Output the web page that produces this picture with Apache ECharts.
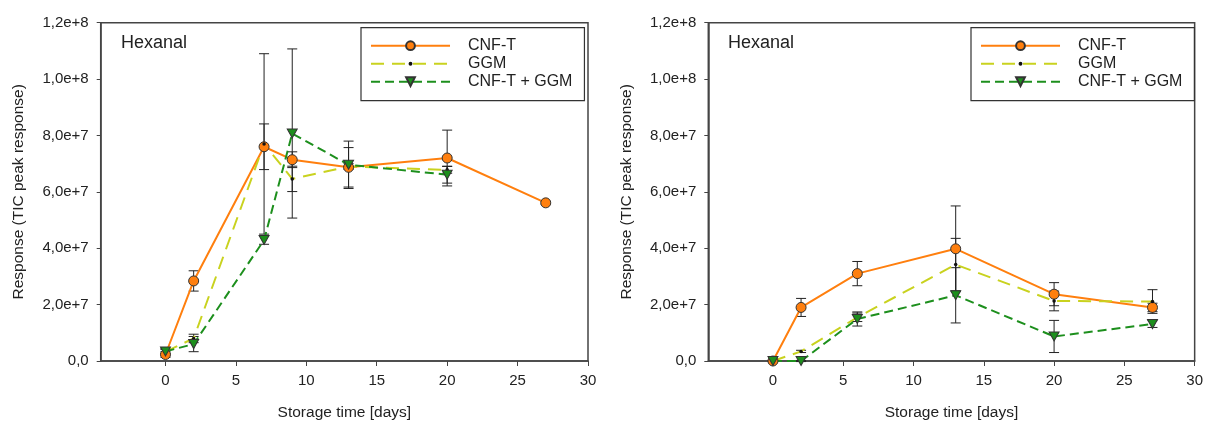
<!DOCTYPE html>
<html>
<head>
<meta charset="utf-8">
<script src="https://cdn.jsdelivr.net/npm/echarts@6/dist/echarts.min.js"></script>
<style>
  html, body { margin: 0; padding: 0; background: #fff; }
  #chart { width: 1206px; height: 426px; }
</style>
</head>
<body>
<div id="chart"></div>
<script>
// left panel
const daysA = [0, 2, 7, 9, 13, 20, 27]
const daysA2 = [0, 2, 7, 9, 13, 20]
const cnftA = [2.3e6, 2.84e7, 7.6e7, 7.14e7, 6.87e7, 7.2e7, 5.61e7]
const cnftAErr = [1.0e6, 3.6e6, 8.1e6, 2.8e6, 7.0e6, 9.9e6, 5e5]
const ggmA = [3.3e6, 8.0e6, 7.7e7, 6.46e7, 6.9e7, 6.78e7]
const ggmAErr = [8e5, 1.5e6, 3.2e7, 4.5e6, 1.0e6, 1.2e6]
const mixA = [3.4e6, 6.0e6, 4.29e7, 8.07e7, 6.96e7, 6.61e7]
const mixAErr = [1.0e6, 2.7e6, 1.5e6, 3.0e7, 8.4e6, 3.0e6]

// right panel
const daysB = [0, 2, 6, 13, 20, 27]
const cnftB = [0, 1.9e7, 3.1e7, 3.98e7, 2.37e7, 1.9e7]
const cnftBErr = [3e5, 3.2e6, 4.3e6, 1.52e7, 4.1e6, 1.5e6]
const ggmB = [0, 3.4e6, 1.55e7, 3.42e7, 2.13e7, 2.11e7]
const ggmBErr = [2e5, 4e5, 1.5e6, 9.3e6, 3.5e6, 4.2e6]
const mixB = [0, 0, 1.49e7, 2.33e7, 8.7e6, 1.31e7]
const mixBErr = [2e5, 2e5, 2.5e6, 9.8e6, 5.7e6, 1.2e6]

const xTicks = [0, 5, 10, 15, 20, 25, 30]
const names = ['CNF-T', 'GGM', 'CNF-T + GGM']

const font = 'Liberation Sans, Arial, sans-serif'
const axisCol = '#444'
const orange = '#ff7f0e'
const yellow = '#c9d21f'
const green = '#1d8f1d'
const triDown = 'path://M0,0 L10,0 L5,9 Z'
// small dot inside an empty 10x10 box, so legend and plot keep it tiny
const smallDot = 'path://M0,0 M10,10 M7.2,5 A2.2,2.2 0 1 1 2.8,5 A2.2,2.2 0 1 1 7.2,5 Z'

const zip = (xs, ys) => xs.map((x, i) => [x, ys[i]])
const errData = (xs, ys, es) => xs.map((x, i) => [x, ys[i] - es[i], ys[i] + es[i]])

// y tick text like 1,2e+8
const sci = v => {
  if (v === 0) return '0,0'
  const e = Math.floor(Math.log10(v) + 1e-9)
  return (v / Math.pow(10, e)).toFixed(1).replace('.', ',') + 'e+' + e
}

const errBar = (data, idx) => ({
  type: 'custom',
  xAxisIndex: idx,
  yAxisIndex: idx,
  z: 1,
  silent: true,
  encode: { x: 0, y: [1, 2] },
  data,
  renderItem: (params, api) => {
    const lo = api.coord([api.value(0), api.value(1)])
    const hi = api.coord([api.value(0), api.value(2)])
    const w = 5
    const st = { stroke: '#222', lineWidth: 1 }
    return {
      type: 'group',
      children: [
        { type: 'line', shape: { x1: lo[0], y1: lo[1], x2: hi[0], y2: hi[1] }, style: st },
        { type: 'line', shape: { x1: lo[0] - w, y1: lo[1], x2: lo[0] + w, y2: lo[1] }, style: st },
        { type: 'line', shape: { x1: hi[0] - w, y1: hi[1], x2: hi[0] + w, y2: hi[1] }, style: st }
      ]
    }
  }
})

const lineSeries = (kind, data, idx) => {
  const base = { type: 'line', xAxisIndex: idx, yAxisIndex: idx, z: 2, data, animation: false }
  if (kind === 0) {
    return Object.assign(base, {
      name: names[0], symbol: 'circle', symbolSize: 10,
      lineStyle: { color: orange, width: 2 },
      itemStyle: { color: orange, borderColor: '#333', borderWidth: 1 }
    })
  }
  if (kind === 1) {
    return Object.assign(base, {
      name: names[1], symbol: smallDot, symbolSize: 8,
      lineStyle: { color: yellow, width: 2, type: [13, 8] },
      itemStyle: { color: '#111', borderWidth: 0 }
    })
  }
  return Object.assign(base, {
    name: names[2], symbol: triDown, symbolSize: [10, 9],
    lineStyle: { color: green, width: 2, type: [9, 5] },
    itemStyle: { color: green, borderColor: '#333', borderWidth: 1 }
  })
}

const grids = [
  { left: 100.7, top: 22.7, width: 487.3, height: 340.6 },
  { left: 708.3, top: 22.7, width: 487.7, height: 341.3 }
]

const xAxis = grids.map((g, i) => ({
  type: 'value', gridIndex: i, min: -4.6, max: 30,
  name: 'Storage time [days]', nameLocation: 'middle', nameGap: 44,
  nameTextStyle: { fontFamily: font, fontSize: 15.5, color: '#222' },
  axisLine: { show: true, onZero: false, lineStyle: { color: axisCol, width: 1.5 } },
  axisTick: { show: true, length: 5, customValues: xTicks, lineStyle: { color: axisCol } },
  axisLabel: { customValues: xTicks, margin: 12, fontFamily: font, fontSize: 15, color: '#222' },
  splitLine: { show: false }
}))

const yAxis = grids.map((g, i) => ({
  type: 'value', gridIndex: i, min: 0, max: 1.2e8, interval: 2e7,
  name: 'Response (TIC peak response)', nameLocation: 'middle', nameGap: 74,
  nameTextStyle: { fontFamily: font, fontSize: 15.5, color: '#222' },
  axisLine: { show: true, onZero: false, lineStyle: { color: axisCol, width: 1.5 } },
  axisTick: { show: true, length: 4, lineStyle: { color: axisCol } },
  axisLabel: { margin: 12, fontFamily: font, fontSize: 15, color: '#222', formatter: sci },
  splitLine: { show: false }
}))

const legends = [361, 971].map(x => ({
  orient: 'vertical', left: x, top: 27.7,
  data: names, selectedMode: false,
  itemWidth: 79, itemHeight: 11, itemGap: 2,
  padding: [10, 12, 11, 9],
  borderColor: '#333', borderWidth: 1.2,
  textStyle: { fontFamily: font, fontSize: 16, color: '#222', lineHeight: 16, padding: [0, 0, 0, 13] }
}))

const titleStyle = { fontFamily: font, fontSize: 18, fontWeight: 'normal', color: '#222' }

const option = {
  backgroundColor: '#fff',
  animation: false,
  title: [
    { text: 'Hexanal', left: 121, top: 34, padding: 0, textStyle: titleStyle },
    { text: 'Hexanal', left: 728, top: 34, padding: 0, textStyle: titleStyle }
  ],
  legend: legends,
  grid: grids.map(g => Object.assign({ show: true, borderColor: axisCol, borderWidth: 1.5, backgroundColor: 'transparent' }, g)),
  xAxis,
  yAxis,
  series: [
    errBar(errData(daysA, cnftA, cnftAErr), 0),
    errBar(errData(daysA2, ggmA, ggmAErr), 0),
    errBar(errData(daysA2, mixA, mixAErr), 0),
    lineSeries(0, zip(daysA, cnftA), 0),
    lineSeries(1, zip(daysA2, ggmA), 0),
    lineSeries(2, zip(daysA2, mixA), 0),
    errBar(errData(daysB, cnftB, cnftBErr), 1),
    errBar(errData(daysB, ggmB, ggmBErr), 1),
    errBar(errData(daysB, mixB, mixBErr), 1),
    lineSeries(0, zip(daysB, cnftB), 1),
    lineSeries(1, zip(daysB, ggmB), 1),
    lineSeries(2, zip(daysB, mixB), 1)
  ]
}

const chart = echarts.init(document.getElementById('chart'))
chart.setOption(option)
</script>
</body>
</html>
